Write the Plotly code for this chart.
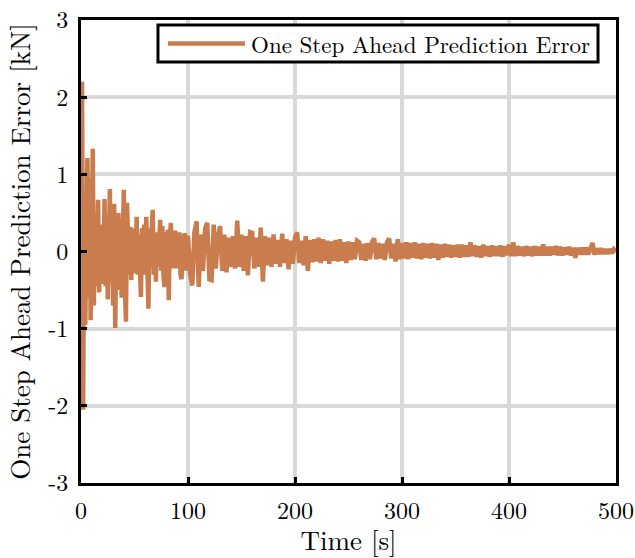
import numpy as np
import plotly.graph_objects as go

# Segment 1: 0..99 s, 1 s sampling (values in kN)
err_seg1 = [
    0.00, 2.20, -2.05, 0.76, -0.95, 0.55, 1.21, -0.60, 0.95, -0.89,
    1.05, 1.33, -0.70, 0.40, -0.45, 0.30, 0.67, -0.53, 0.35, -0.42,
    0.25, -0.30, 0.68, -0.45, 0.30, -0.62, 0.45, 0.81, -0.40, 0.55,
    -0.70, 0.62, -0.99, 0.35, -0.50, 0.50, -0.35, 0.42, -0.60, 0.30,
    0.80, -0.45, -0.91, 0.63, 0.20, -0.30, 0.32, -0.37, 0.25, -0.28,
    0.30, -0.20, 0.45, -0.30, 0.22, -0.40, -0.59, 0.30, -0.25, 0.35,
    -0.30, 0.45, -0.35, -0.74, 0.30, -0.20, 0.25, 0.54, -0.30, 0.20,
    -0.39, 0.25, -0.20, 0.30, 0.41, -0.25, 0.33, -0.30, -0.46, 0.25,
    -0.20, 0.28, -0.63, 0.20, 0.37, -0.22, 0.18, -0.20, 0.27, -0.22,
    0.20, -0.18, 0.25, -0.30, -0.36, 0.22, -0.20, 0.24, -0.25, 0.18,
]
# Segment 2: 100..500 s, 2 s sampling (values in kN)
err_seg2 = [
    0.20, -0.30, -0.44, 0.25, 0.39, -0.46, 0.22, -0.25, 0.30, 0.37,
    -0.36, -0.37, 0.35, -0.22, 0.20, 0.33, -0.25, 0.22, -0.27, 0.18,
    -0.20, 0.20, -0.22, 0.40, -0.20, 0.22, -0.25, 0.20, -0.31, 0.25,
    0.24, -0.22, 0.18, -0.20, 0.31, -0.39, 0.20, -0.18, 0.18, -0.20,
    0.22, -0.16, 0.15, -0.20, 0.23, -0.15, 0.16, -0.23, 0.14, -0.16,
    0.18, 0.25, -0.15, 0.14, -0.18, 0.20, -0.25, 0.15, -0.14, 0.16,
    -0.13, 0.18, -0.15, 0.16, -0.12, 0.14, -0.16, 0.13, -0.12, 0.15,
    -0.13, 0.16, -0.12, 0.12, -0.15, 0.13, -0.11, 0.12, -0.10, 0.14,
    0.12, -0.11, 0.10, -0.12, 0.11, -0.10, 0.12, 0.17, -0.10, 0.11,
    -0.09, 0.10, -0.11, 0.12, 0.17, -0.09, 0.10, -0.13, 0.16, -0.10,
    0.11, -0.09, 0.12, -0.10, 0.11, -0.08, 0.12, -0.09, 0.10, -0.10,
    0.11, -0.08, 0.10, -0.09, 0.11, -0.08, 0.10, -0.11, 0.09, -0.08,
    0.10, -0.07, 0.09, -0.08, 0.08, -0.07, 0.09, -0.08, 0.09, -0.07,
    0.08, -0.07, 0.12, -0.06, 0.08, -0.07, 0.07, -0.08, 0.09, -0.06,
    0.07, -0.07, 0.08, -0.06, 0.07, -0.06, 0.08, -0.07, 0.07, -0.05,
    0.09, -0.06, 0.12, -0.06, 0.07, -0.05, 0.06, -0.06, 0.07, -0.05,
    0.06, -0.06, 0.07, -0.05, 0.06, -0.05, 0.09, -0.05, 0.06, -0.05,
    0.06, -0.04, 0.07, -0.05, 0.06, -0.05, 0.05, -0.04, 0.06, -0.05,
    0.05, -0.08, 0.05, -0.04, 0.05, -0.04, 0.05, -0.04, 0.05, 0.11,
    -0.04, 0.04, -0.03, 0.04, -0.03, 0.03, -0.03, 0.03, -0.02, 0.03,
    0.00,
]
seg1_start, seg1_step = 0.0, 1.0
seg2_start, seg2_step = 100.0, 2.0

x_ticks = [0, 100, 200, 300, 400, 500]
x_tick_labels = ["0", "100", "200", "300", "400", "500"]
y_ticks = [-3, -2, -1, 0, 1, 2, 3]
y_tick_labels = ["-3", "-2", "-1", "0", "1", "2", "3"]
series_name = "One Step Ahead Prediction Error"

t1 = seg1_start + seg1_step * np.arange(len(err_seg1))
t2 = seg2_start + seg2_step * np.arange(len(err_seg2))
t = np.concatenate([t1, t2])
err = np.concatenate([err_seg1, err_seg2])

FONT = "Latin Modern Roman, CMU Serif, Liberation Serif, serif"
LINE_COLOR = "#C97D4E"

fig = go.Figure()
fig.add_trace(go.Scatter(
    x=t, y=err, mode="lines",
    name=series_name, showlegend=False,
    line=dict(color=LINE_COLOR, width=4.5),
))

axis_common = dict(
    showline=True, linecolor="black", linewidth=3, mirror=True,
    ticks="inside", ticklen=6, tickwidth=3, tickcolor="black",
    showgrid=True, gridcolor="#D9D9D9", gridwidth=4,
    zeroline=False, automargin=False, ticklabeloverflow="allow",
    tickfont=dict(family=FONT, size=24, color="black"),
)

fig.update_xaxes(
    range=[0, 500], tickvals=x_ticks, ticktext=x_tick_labels,
    ticklabelstandoff=4,
    title=dict(text="Time [s]", font=dict(family=FONT, size=27, color="black"), standoff=8),
    **axis_common,
)
fig.update_yaxes(
    range=[-3, 3], tickvals=y_ticks, ticktext=y_tick_labels,
    ticklabelstandoff=5,
    title=dict(text="One Step Ahead Prediction Error [kN]",
               font=dict(family=FONT, size=27, color="black"), standoff=10),
    **axis_common,
)

# Legend box drawn in plot-area (paper) coordinates
lx0, lx1, ly0, ly1 = 0.1439, 0.9664, 0.9093, 0.9892
fig.add_shape(type="rect", xref="paper", yref="paper",
              x0=lx0, x1=lx1, y0=ly0, y1=ly1,
              line=dict(color="black", width=3), fillcolor="white", layer="above")
ly_mid = (ly0 + ly1) / 2
fig.add_shape(type="line", xref="paper", yref="paper",
              x0=0.1626, x1=0.3065, y0=ly_mid, y1=ly_mid,
              line=dict(color=LINE_COLOR, width=4.5), layer="above")
fig.add_annotation(xref="paper", yref="paper", x=0.3140, y=ly_mid,
                   xanchor="left", yanchor="middle", showarrow=False,
                   text=series_name,
                   font=dict(family=FONT, size=23, color="black"))

fig.update_layout(
    width=635, height=558,
    margin=dict(l=81, r=19, t=20, b=75),
    plot_bgcolor="white", paper_bgcolor="white",
    showlegend=False,
)

# remove the default page margin so the figure fills the window exactly
fig.write_html("out.html",
               config={"displayModeBar": False},
               post_script="document.body.style.margin='0px';document.body.style.overflow='hidden';")
